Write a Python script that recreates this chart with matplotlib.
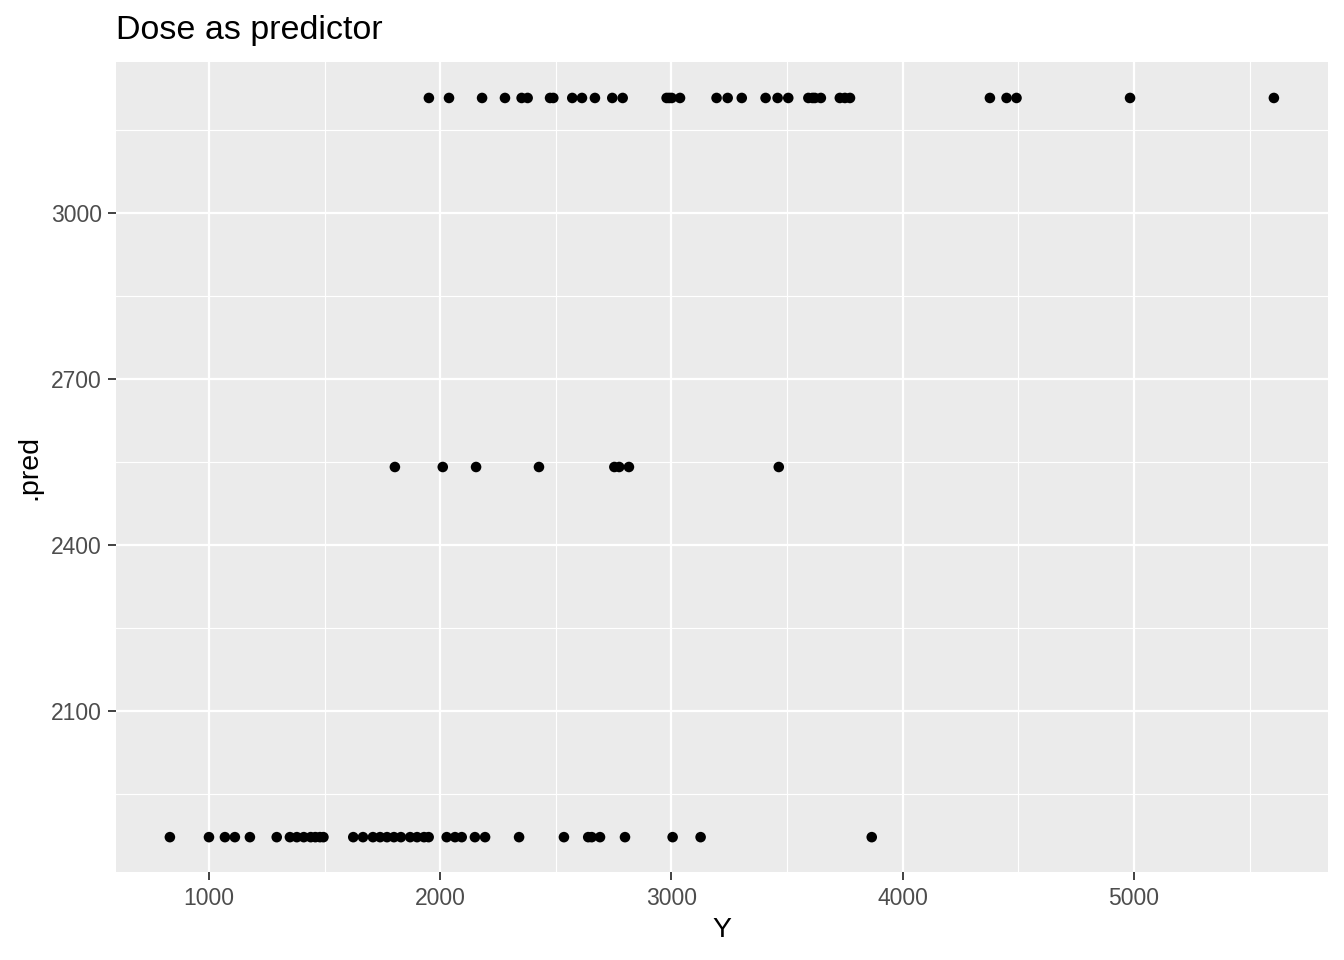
import matplotlib
matplotlib.use("Agg")
import matplotlib.pyplot as plt
import numpy as np

plt.rcParams['font.family'] = ['Liberation Sans', 'DejaVu Sans']

pred_levels = [3208, 2541, 1872]

y_high = [1951, 2038, 2181, 2280, 2352, 2378, 2475, 2489, 2571, 2613, 2669, 2744,
          2789, 2979, 2990, 3001, 3037, 3195, 3243, 3304, 3407, 3459, 3505, 3592,
          3610, 3620, 3646, 3728, 3750, 3772, 4377, 4449, 4492, 4983, 5605]
y_mid = [1804, 2011, 2155, 2427, 2753, 2774, 2816, 3464]
y_low = [831, 1000, 1069, 1112, 1177, 1293, 1350, 1380, 1410, 1440, 1460, 1480,
         1495, 1624, 1666, 1709, 1740, 1770, 1800, 1830, 1870, 1900, 1930, 1950,
         2028, 2064, 2093, 2150, 2194, 2341, 2535, 2640, 2655, 2691, 2799, 3005,
         3126, 3866]

fig = plt.figure(figsize=(13.44, 9.6), dpi=100)
ax = fig.add_axes([116/1344, 1-872/960, (1328-116)/1344, (872-62)/960])
ax.set_facecolor('#EBEBEB')

ax.set_xlim(598, 5839)
ax.set_ylim(1809, 3273)

xt = [1000, 2000, 3000, 4000, 5000]
yt = [2100, 2400, 2700, 3000]
ax.set_xticks(xt)
ax.set_yticks(yt)
ax.set_xticks([1500, 2500, 3500, 4500, 5500], minor=True)
ax.set_yticks([1950, 2250, 2550, 2850, 3150], minor=True)
ax.grid(which='major', color='white', linewidth=1.6)
ax.grid(which='minor', color='white', linewidth=0.8)
ax.set_axisbelow(True)
for s in ax.spines.values():
    s.set_visible(False)
ax.tick_params(which='major', length=6, width=1.3, color='#333333',
               labelsize=16.5, labelcolor='#4D4D4D', pad=4)
ax.tick_params(axis='x', which='major', pad=5)
ax.tick_params(which='minor', length=0)

for xs, lvl in zip([y_high, y_mid, y_low], pred_levels):
    ax.scatter(xs, [lvl]*len(xs), s=58, color='black', edgecolors='none', zorder=3)

ax.set_xlabel('Y', fontsize=20.5, va='center')
ax.xaxis.set_label_coords(0.5, (872-930)/810)
ax.set_ylabel('.pred', fontsize=20.5, va='center', rotation=90)
ax.yaxis.set_label_coords((29-116)/1212, 0.5)
fig.text(116/1344, 1-30/960, 'Dose as predictor', fontsize=24.5, va='center', ha='left')

fig.savefig('out.png', dpi=100, facecolor='white')
